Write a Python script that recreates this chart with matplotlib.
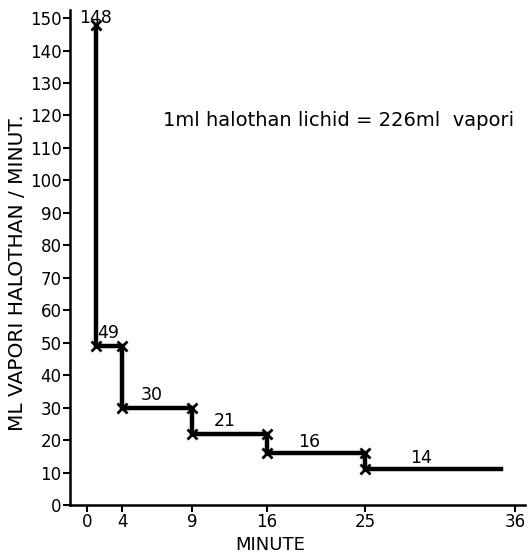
import numpy as np
import matplotlib.pyplot as plt

# step data (minutes, ml vapour / minute) as drawn
x_steps = [1, 1, 4, 9, 16, 25, 35]
y_steps = [148, 49, 30, 22, 16, 11, 11]
x_marks = [1, 1, 4, 4, 9, 9, 16, 16, 25, 25]
y_marks = [148, 49, 49, 30, 30, 22, 22, 16, 16, 11]

labels = ['148', '49', '30', '21', '16', '14']
label_x = [1.0, 2.4, 6.1, 12.1, 19.9, 29.1]
label_y = [150, 53, 34, 26, 19.5, 14.5]

xticks = [0, 4, 9, 16, 25, 36]
yticks = list(range(0, 151, 10))

# hand drawn axis: ticks are not evenly spaced
tick_px = [87, 122, 192, 267, 365, 515]
xp = np.array([-5] + xticks + [40], dtype=float)
fp = np.array([87 - 5 * 8.75] + tick_px + [515 + 4 * 13.6])

def fwd(x):
    return np.interp(x, xp, fp)

def inv(p):
    return np.interp(p, fp, xp)

fig = plt.figure(figsize=(5.28, 5.58), dpi=100)
ax = fig.add_axes([70 / 528, 53 / 558, 455 / 528, 495 / 558])
ax.set_xscale('function', functions=(fwd, inv))

ax.plot(x_steps, y_steps, drawstyle='steps-post', color='black', lw=3.2,
        solid_joinstyle='miter')
ax.plot(x_marks, y_marks, 'x', color='black', ms=7, mew=2)

for t, lx, ly in zip(labels, label_x, label_y):
    ax.text(lx, ly, t, ha='center', va='center', fontsize=12.5)

ax.text(inv(163), 118.5, '1ml halothan lichid = 226ml  vapori', fontsize=14,
        ha='left', va='center')

ax.set_xlim(inv(70), inv(525))
ax.set_ylim(0, 152.5)
ax.set_xticks(xticks)
ax.set_xticklabels([str(t) for t in xticks])
ax.set_yticks(yticks)
ax.tick_params(axis='both', direction='out', length=5, width=1.5,
               labelsize=12, pad=1)
ax.xaxis.set_minor_locator(plt.NullLocator())

for s in ['top', 'right']:
    ax.spines[s].set_visible(False)
for s in ['left', 'bottom']:
    ax.spines[s].set_linewidth(1.8)

ax.set_ylabel('ML VAPORI HALOTHAN / MINUT.', fontsize=14.5)
ax.yaxis.set_label_coords(-0.095, 0.47)
ax.set_xlabel('MINUTE', fontsize=13)
ax.xaxis.set_label_coords(0.44, -0.062)

fig.savefig('out.png', dpi=100)
